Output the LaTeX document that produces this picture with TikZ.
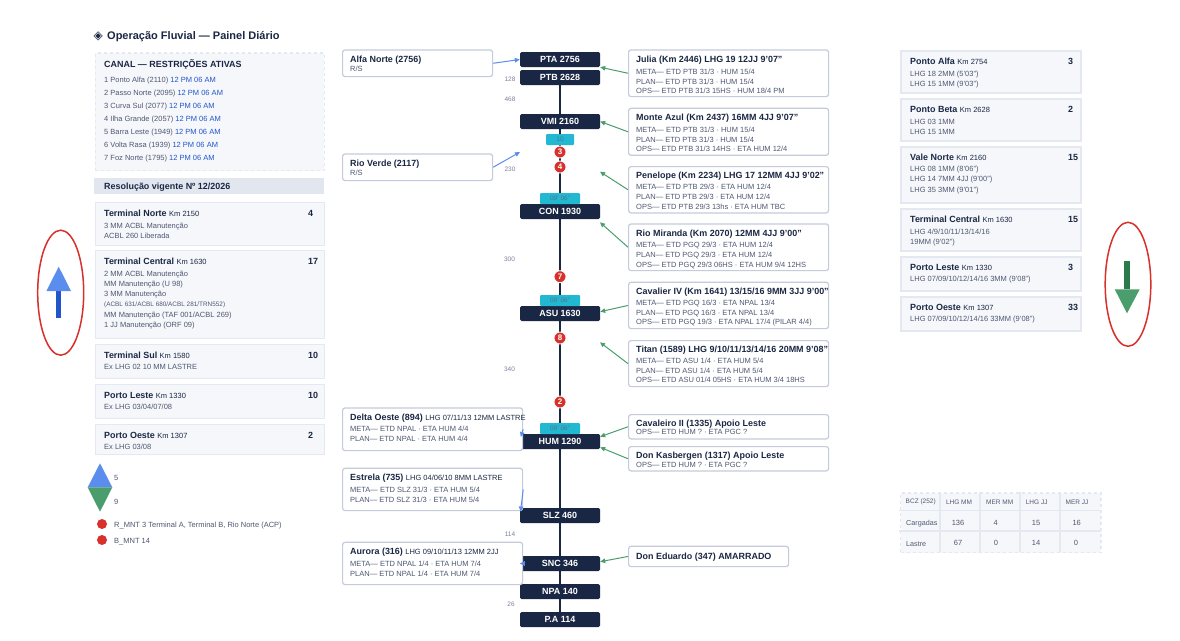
\documentclass[tikz,border=0pt]{standalone}
\usepackage{fontspec}
\setmainfont{Liberation Sans}
\newfontfamily\symfont{DejaVu Sans}
\usepackage{xcolor}
\usepackage{tikz}
\usetikzlibrary{arrows.meta}

\definecolor{navy}{HTML}{1A2744}
\definecolor{bodygrey}{HTML}{4F5873}
\definecolor{distgrey}{HTML}{7A82A0}
\definecolor{cardfill}{HTML}{F5F7FA}
\definecolor{cardline}{HTML}{E4E8F0}
\definecolor{flowline}{HTML}{C5CBDC}
\definecolor{bandfill}{HTML}{E2E6EF}
\definecolor{linkblue}{HTML}{2255CC}
\definecolor{upblue}{HTML}{5B8DEE}
\definecolor{downgreen}{HTML}{4A9E6D}
\definecolor{darkgreen}{HTML}{2A7A4B}
\definecolor{alertred}{HTML}{D8302A}
\definecolor{teal}{HTML}{22B8D1}
\definecolor{tealtext}{HTML}{4F7488}

\newcommand{\fT}{\fontsize{8.95}{10}\selectfont\bfseries}
\newcommand{\fK}{\fontsize{7.5}{10}\selectfont\mdseries}
\newcommand{\fB}{\fontsize{7.5}{10}\selectfont}

\tikzset{
  station/.style={fill=navy, rounded corners=1.5pt, minimum width=80pt, minimum height=15pt, inner sep=0pt, text=white, font=\fT},
  spine/.style={draw=navy, line width=2.8pt},
  badge/.style={fill=teal, rounded corners=1pt, minimum height=11pt, inner sep=0pt, text=tealtext, font=\fontsize{6.5}{8}\selectfont},
  alert/.style={circle, fill=alertred, draw=white, line width=0.8pt, minimum size=12pt, inner sep=0pt, text=white, font=\fontsize{8}{9}\selectfont\bfseries},
  dist/.style={inner sep=0pt, text=distgrey, font=\fontsize{6.5}{8}\selectfont},
  flowbox/.style={draw=flowline, fill=white, line width=1.2pt, rounded corners=2.5pt, anchor=north west, inner sep=0pt},
  cardbox/.style={draw=cardline, fill=cardfill, line width=1.8pt, anchor=north west, inner sep=0pt},
  head/.style={anchor=base west, inner sep=0pt, yshift=-3.3pt, text=navy, font=\fT},
  body/.style={anchor=base west, inner sep=0pt, yshift=-2.8pt, text=bodygrey, font=\fB},
  bluelink/.style={draw=upblue, line width=1pt, -{Triangle[length=5pt,width=4.5pt]}},
  greenlink/.style={draw=downgreen, line width=1pt, -{Triangle[length=5pt,width=4.5pt]}},
  cellrule/.style={draw=cardline, line width=1.5pt}
}

\begin{document}
\begin{tikzpicture}[x=1pt,y=-1pt]
\useasboundingbox (0,0) rectangle (1180,640);
\fill[white] (0,0) rectangle (1180,640);

\node[head, font=\symfont\fontsize{12}{14}\selectfont] (logo) at (93.5,35.8) {◈};
\node[head, font=\fontsize{11}{13}\selectfont\bfseries] (title) at (107,36.5) {Operação Fluvial — Painel Diário};

\node[cardbox, dashed, line width=1.5pt, minimum width=229pt, minimum height=117.5pt] (canal) at (94.5,52.3) {};
\node[head, font=\fontsize{8.95}{10}\selectfont\bfseries] (canal-head) at (104,64) {CANAL — RESTRIÇÕES ATIVAS};
\foreach \i/\txt/\yy in {1/1 Ponto Alfa (2110)/79.3, 2/2 Passo Norte (2095)/92.3, 3/3 Curva Sul (2077)/105.3, 4/4 Ilha Grande (2057)/118.3, 5/5 Barra Leste (1949)/131.3, 6/6 Volta Rasa (1939)/144.3, 7/7 Foz Norte (1795)/157.3}
  \node[body] (canal-\i) at (104,\yy) {\txt{} \textcolor{linkblue}{12 PM 06 AM}};

\node[fill=bandfill, anchor=north west, minimum width=230pt, minimum height=16pt, inner sep=0pt] (band) at (94,178) {};
\node[head] (band-txt) at (104,186) {Resolução vigente Nº 12/2026};

\node[cardbox, minimum width=229pt, minimum height=43pt] (norte) at (94.5,201.5) {};
\node[head] (norte-t) at (104,212.7) {Terminal Norte \fK Km 2150};
\node[head] (norte-n) at (308,212.7) {4};
\node[body] (norte-1) at (104,225.3) {3 MM ACBL Manutenção};
\node[body] (norte-2) at (104,235.3) {ACBL 260 Liberada};

\node[cardbox, minimum width=229pt, minimum height=88pt] (central) at (94.5,249.5) {};
\node[head] (central-t) at (104,261) {Terminal Central \fK Km 1630};
\node[head] (central-n) at (308,261) {17};
\node[body] (central-1) at (104,273.3) {2 MM ACBL Manutenção};
\node[body] (central-2) at (104,283.3) {MM Manutenção (U 98)};
\node[body] (central-3) at (104,293.3) {3 MM Manutenção};
\node[body, font=\fontsize{6.4}{7}\selectfont] (central-4) at (104,303.7) {(ACBL 631/ACBL 680/ACBL 281/TRN552)};
\node[body] (central-5) at (104,314.3) {MM Manutenção (TAF 001/ACBL 269)};
\node[body] (central-6) at (104,325) {1 JJ Manutenção (ORF 09)};

\node[cardbox, minimum width=229pt, minimum height=34pt] (sul) at (94.5,343.5) {};
\node[head] (sul-t) at (104,355) {Terminal Sul \fK Km 1580};
\node[head] (sul-n) at (308,355) {10};
\node[body] (sul-1) at (104,367) {Ex LHG 02 10 MM LASTRE};

\node[cardbox, minimum width=229pt, minimum height=34pt] (leste) at (94.5,383.5) {};
\node[head] (leste-t) at (104,395) {Porto Leste \fK Km 1330};
\node[head] (leste-n) at (308,395) {10};
\node[body] (leste-1) at (104,407) {Ex LHG 03/04/07/08};

\node[cardbox, minimum width=229pt, minimum height=30pt] (oeste) at (94.5,423.5) {};
\node[head] (oeste-t) at (104,435) {Porto Oeste \fK Km 1307};
\node[head] (oeste-n) at (308,435) {2};
\node[body] (oeste-1) at (104,447) {Ex LHG 03/08};

\draw[alertred, line width=1.5pt] (60.7,292.7) ellipse [x radius=23, y radius=62.5];
\fill[linkblue] (56,291) rectangle (61.3,318);
\fill[upblue] (58.7,266.7) -- (71,291) -- (46.4,291) -- cycle;

\draw[alertred, line width=1.5pt] (1128,284.3) ellipse [x radius=22.8, y radius=62];
\fill[darkgreen] (1124.3,261) rectangle (1129.7,289.3);
\fill[downgreen] (1114.7,289.3) -- (1139.7,289.3) -- (1127,313.3) -- cycle;

\fill[upblue] (100,463.3) -- (112.3,487.3) -- (87.7,487.3) -- cycle;
\fill[downgreen] (87.7,487.3) -- (112.3,487.3) -- (100,511.7) -- cycle;
\node[body] (up-count) at (114,477.3) {5};
\node[body] (down-count) at (114,501.3) {9};
\fill[alertred] (102,524) circle (5);
\fill[alertred] (102,540) circle (5);
\node[body] (rmnt) at (114,525) {R\_MNT 3 Terminal A, Terminal B, Rio Norte (ACP)};
\node[body] (bmnt) at (114,541) {B\_MNT 14};

\foreach \name/\txt/\yy in {pta/PTA 2756/59.5, ptb/PTB 2628/77.5, vmi/VMI 2160/121.5, con/CON 1930/211.5, asu/ASU 1630/313.5, hum/HUM 1290/441.5, slz/SLZ 460/515.5, snc/SNC 346/563.5, npa/NPA 140/591.5, pa/P.A 114/619.5}
  \node[station] (\name) at (560,\yy) {\txt};
\foreach \a/\b in {ptb/vmi, vmi/con, con/asu, asu/hum, hum/slz, slz/snc, snc/npa, npa/pa}
  \draw[spine] (\a) -- (\b);

\node[badge, minimum width=28pt] (badge-a) at (560,139.5) {10};
\node[badge, minimum width=40pt] (badge-b) at (560,198.7) {09' 06"};
\node[badge, minimum width=40pt] (badge-c) at (560,300.5) {09' 06"};
\node[badge, minimum width=40pt] (badge-d) at (560,428.7) {09' 06"};

\foreach \i/\yy in {3/152, 4/167, 7/276.7, 8/338, 2/402}
  \node[alert] (alert-\i) at (560,\yy) {\i};

\foreach \txt/\xx/\yy in {128/510/79.3, 468/510/99.7, 230/510/169.7, 300/509.5/259.7, 340/509.5/369.7, 114/510/534.7, 26/511/604.7}
  \node[dist] (dist-\txt) at (\xx,\yy) {\txt};

\node[flowbox, minimum width=150pt, minimum height=26.7pt] (alfa) at (342,49.3) {};
\node[head] (alfa-t) at (350,59) {Alfa Norte (2756)};
\node[body] (alfa-1) at (350,69) {R/S};

\node[flowbox, minimum width=150pt, minimum height=26.7pt] (verde) at (342,153.3) {};
\node[head] (verde-t) at (350,163) {Rio Verde (2117)};
\node[body] (verde-1) at (350,173) {R/S};

\node[flowbox, minimum width=180pt, minimum height=42.7pt] (delta) at (342,407.3) {};
\node[head] (delta-t) at (350,416.7) {Delta Oeste (894) \fK LHG 07/11/13 12MM LASTRE};
\node[body] (delta-1) at (350,429) {META— ETD NPAL · ETA HUM 4/4};
\node[body] (delta-2) at (350,439) {PLAN— ETD NPAL · ETA HUM 4/4};

\node[flowbox, minimum width=180pt, minimum height=42.3pt] (estrela) at (342,467.7) {};
\node[head] (estrela-t) at (350,477) {Estrela (735) \fK LHG 04/06/10 8MM LASTRE};
\node[body] (estrela-1) at (350,489.5) {META— ETD SLZ 31/3 · ETA HUM 5/4};
\node[body] (estrela-2) at (350,499.5) {PLAN— ETD SLZ 31/3 · ETA HUM 5/4};

\node[flowbox, minimum width=180pt, minimum height=42.3pt] (aurora) at (342,541.7) {};
\node[head] (aurora-t) at (350,551) {Aurora (316) \fK LHG 09/10/11/13 12MM 2JJ};
\node[body] (aurora-1) at (350,563.7) {META— ETD NPAL 1/4 · ETA HUM 7/4};
\node[body] (aurora-2) at (350,573.3) {PLAN— ETD NPAL 1/4 · ETA HUM 7/4};

\node[flowbox, minimum width=200pt, minimum height=46.7pt] (julia) at (628,49.3) {};
\node[head] (julia-t) at (636,58.7) {Julia (Km 2446) LHG 19 12JJ 9'07"};
\node[body] (julia-1) at (636,71.3) {META— ETD PTB 31/3 · HUM 15/4};
\node[body] (julia-2) at (636,81.3) {PLAN— ETD PTB 31/3 · HUM 15/4};
\node[body] (julia-3) at (636,90.3) {OPS— ETD PTB 31/3 15HS · HUM 18/4 PM};

\node[flowbox, minimum width=200pt, minimum height=47pt] (monte) at (628,107.7) {};
\node[head] (monte-t) at (636,117) {Monte Azul (Km 2437) 16MM 4JJ 9'07"};
\node[body] (monte-1) at (636,129.3) {META— ETD PTB 31/3 · HUM 15/4};
\node[body] (monte-2) at (636,139.3) {PLAN— ETD PTB 31/3 · HUM 15/4};
\node[body] (monte-3) at (636,148.7) {OPS— ETD PTB 31/3 14HS · ETA HUM 12/4};

\node[flowbox, minimum width=200pt, minimum height=46.3pt] (penelope) at (628,166) {};
\node[head] (penelope-t) at (636,175) {Penelope (Km 2234) LHG 17 12MM 4JJ 9'02"};
\node[body] (penelope-1) at (636,187) {META— ETD PTB 29/3 · ETA HUM 12/4};
\node[body] (penelope-2) at (636,197) {PLAN— ETD PTB 29/3 · ETA HUM 12/4};
\node[body] (penelope-3) at (636,206.5) {OPS— ETD PTB 29/3 13hs · ETA HUM TBC};

\node[flowbox, minimum width=200pt, minimum height=46.7pt] (miranda) at (628,223.3) {};
\node[head] (miranda-t) at (636,233) {Rio Miranda (Km 2070) 12MM 4JJ 9'00"};
\node[body] (miranda-1) at (636,245) {META— ETD PGQ 29/3 · ETA HUM 12/4};
\node[body] (miranda-2) at (636,255) {PLAN— ETD PGQ 29/3 · ETA HUM 12/4};
\node[body] (miranda-3) at (636,264.5) {OPS— ETD PGQ 29/3 06HS · ETA HUM 9/4 12HS};

\node[flowbox, minimum width=200pt, minimum height=46.3pt] (cavalier) at (628,281.7) {};
\node[head] (cavalier-t) at (636,291) {Cavalier IV (Km 1641) 13/15/16 9MM 3JJ 9'00"};
\node[body] (cavalier-1) at (636,303) {META— ETD PGQ 16/3 · ETA NPAL 13/4};
\node[body] (cavalier-2) at (636,313) {PLAN— ETD PGQ 16/3 · ETA NPAL 13/4};
\node[body] (cavalier-3) at (636,322) {OPS— ETD PGQ 19/3 · ETA NPAL 17/4 (PILAR 4/4)};

\node[flowbox, minimum width=200pt, minimum height=46pt] (titan) at (628,340) {};
\node[head] (titan-t) at (636,349) {Titan (1589) LHG 9/10/11/13/14/16 20MM 9'08"};
\node[body] (titan-1) at (636,361) {META— ETD ASU 1/4 · ETA HUM 5/4};
\node[body] (titan-2) at (636,371) {PLAN— ETD ASU 1/4 · ETA HUM 5/4};
\node[body] (titan-3) at (636,380) {OPS— ETD ASU 01/4 05HS · ETA HUM 3/4 18HS};

\node[flowbox, minimum width=200pt, minimum height=24.3pt] (cavaleiro) at (628,414) {};
\node[head] (cavaleiro-t) at (636,423) {Cavaleiro II (1335) Apoio Leste};
\node[body] (cavaleiro-1) at (636,432) {OPS— ETD HUM ? · ETA PGC ?};

\node[flowbox, minimum width=200pt, minimum height=24.3pt] (kasbergen) at (628,446) {};
\node[head] (kasbergen-t) at (636,455) {Don Kasbergen (1317) Apoio Leste};
\node[body] (kasbergen-1) at (636,464.3) {OPS— ETD HUM ? · ETA PGC ?};

\node[flowbox, minimum width=160pt, minimum height=20.3pt] (eduardo) at (628,545.7) {};
\node[head] (eduardo-t) at (636,556) {Don Eduardo (347) AMARRADO};

\coordinate (verde-in) at (520,152);
\coordinate (delta-in) at (520.8,437);
\coordinate (estrela-in) at (520.5,511.5);
\coordinate (penelope-in) at (600,171.7);
\coordinate (miranda-in) at (600,222.3);
\coordinate (titan-in) at (600,342.3);

\draw[bluelink] (alfa.east) -- (pta.west);
\draw[bluelink] (verde.east) -- (verde-in);
\draw[bluelink] (delta.east) -- (delta-in);
\draw[bluelink] (estrela.east) -- (estrela-in);
\draw[bluelink] (aurora.east) -- (snc.west);

\draw[greenlink] (julia.west) -- (pta.south east);
\draw[greenlink] (monte.west) -- (vmi.east);
\draw[greenlink] (penelope.west) -- (penelope-in);
\draw[greenlink] (miranda.west) -- (miranda-in);
\draw[greenlink] (cavalier.west) -- ([yshift=1.8pt]asu.east);
\draw[greenlink] (titan.west) -- (titan-in);
\draw[greenlink] (cavaleiro.west) -- ([yshift=4.8pt]hum.east);
\draw[greenlink] (kasbergen.west) -- ([yshift=-5.8pt]hum.east);
\draw[greenlink] (eduardo.west) -- ([yshift=1.8pt]snc.east);

\node[cardbox, minimum width=180.4pt, minimum height=42pt] (alfa-c) at (899.8,49.8) {};
\node[head] (alfa-c-t) at (910,61) {Ponto Alfa \fK Km 2754};
\node[head] (alfa-c-n) at (1068,61) {3};
\node[body] (alfa-c-1) at (910,73.7) {LHG 18 2MM (5'03")};
\node[body] (alfa-c-2) at (910,83.7) {LHG 15 1MM (9'03")};

\node[cardbox, minimum width=180.4pt, minimum height=42pt] (beta-c) at (899.8,97.8) {};
\node[head] (beta-c-t) at (910,109) {Ponto Beta \fK Km 2628};
\node[head] (beta-c-n) at (1068,109) {2};
\node[body] (beta-c-1) at (910,121.3) {LHG 03 1MM};
\node[body] (beta-c-2) at (910,131.3) {LHG 15 1MM};

\node[cardbox, minimum width=180.4pt, minimum height=55.6pt] (vale-c) at (899.8,146.2) {};
\node[head] (vale-c-t) at (910,157) {Vale Norte \fK Km 2160};
\node[head] (vale-c-n) at (1068,157) {15};
\node[body] (vale-c-1) at (910,169) {LHG 08 1MM (8'06")};
\node[body] (vale-c-2) at (910,179) {LHG 14 7MM 4JJ (9'00")};
\node[body] (vale-c-3) at (910,189.3) {LHG 35 3MM (9'01")};

\node[cardbox, minimum width=180.4pt, minimum height=42.4pt] (central-c) at (899.8,207.8) {};
\node[head] (central-c-t) at (910,219) {Terminal Central \fK Km 1630};
\node[head] (central-c-n) at (1068,219) {15};
\node[body] (central-c-1) at (910,231.3) {LHG 4/9/10/11/13/14/16};
\node[body] (central-c-2) at (910,241.3) {19MM (9'02")};

\node[cardbox, minimum width=180.4pt, minimum height=33.6pt] (leste-c) at (899.8,256.2) {};
\node[head] (leste-c-t) at (910,267) {Porto Leste \fK Km 1330};
\node[head] (leste-c-n) at (1068,267) {3};
\node[body] (leste-c-1) at (910,279) {LHG 07/09/10/12/14/16 3MM (9'08")};

\node[cardbox, minimum width=180.4pt, minimum height=34pt] (oeste-c) at (899.8,295.8) {};
\node[head] (oeste-c-t) at (910,307) {Porto Oeste \fK Km 1307};
\node[head] (oeste-c-n) at (1068,307) {33};
\node[body] (oeste-c-1) at (910,319) {LHG 07/09/10/12/14/16 33MM (9'08")};

\node[cardbox, dashed, line width=1.5pt, minimum width=200.4pt, minimum height=59.6pt] (bcz) at (899.8,492.2) {};
\foreach \xx in {940,980,1020,1060}
  \draw[cellrule] (\xx,491.7) -- (\xx,552.3);
\foreach \yy in {510.7,531}
  \draw[cellrule] (899.3,\yy) -- (1100.7,\yy);
\foreach \i/\txt/\xx in {a/BCZ (252)/920.7, b/LHG MM/959, c/MER MM/999.7, d/LHG JJ/1036.7, e/MER JJ/1077}
  \node[dist, text=bodygrey] (bcz-\i) at (\xx,502.3) {\txt};
\foreach \i/\txt/\xx in {b/136/958, c/4/995.7, d/15/1036, e/16/1076.7}
  \node[inner sep=0pt, text=bodygrey, font=\fB] (cargadas-\i) at (\xx,522.7) {\txt};
\foreach \i/\txt/\xx in {b/67/958, c/0/996, d/14/1036, e/0/1076}
  \node[inner sep=0pt, text=bodygrey, font=\fB] (lastre-\i) at (\xx,543.3) {\txt};
\node[body, font=\fontsize{7.2}{9}\selectfont] (cargadas) at (906,522.7) {Cargadas};
\node[body, font=\fontsize{7.2}{9}\selectfont] (lastre) at (906,543.3) {Lastre};
\end{tikzpicture}
\end{document}
